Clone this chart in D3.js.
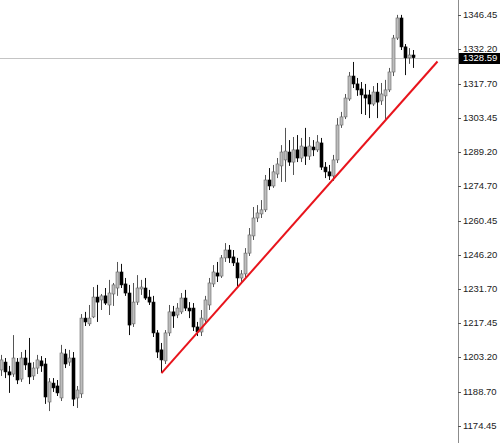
<!DOCTYPE html>
<html>
<head>
<meta charset="utf-8">
<script src="https://cdn.jsdelivr.net/npm/d3@7"></script>
<style>
  body { margin: 0; background: #fff; }
  svg { display: block; }
</style>
</head>
<body>
<script>
// OHLC, one value per candle (oldest first)
var opens = [1197.9,1201.2,1197.1,1196.2,1201.2,1194.1,1202.9,1200.8,1195.4,1198.7,
  1201.7,1200.4,1184.5,1192.4,1191.2,1186.2,1204.6,1201.2,1202.9,1186.2,
  1187.9,1219.6,1217.2,1220.1,1228.4,1227.2,1228.9,1225.1,1229.7,1232.2,
  1238.9,1233.9,1230.1,1217.2,1226.3,1231.8,1232.2,1228.4,1226.3,1213.4,
  1206.3,1201.7,1213.4,1222.2,1220.9,1222.2,1228.0,1223.8,1223.8,1215.9,
  1213.8,1218.8,1225.1,1233.9,1238.5,1237.2,1244.8,1248.1,1245.2,1242.7,
  1236.4,1238.1,1246.8,1254.0,1261.5,1263.2,1264.9,1277.4,1274.9,1279.9,
  1283.3,1285.8,1289.1,1284.9,1290.0,1286.6,1291.2,1287.4,1291.2,1290.0,
  1292.9,1282.8,1280.8,1279.1,1285.8,1300.4,1303.8,1311.3,1320.9,1317.6,
  1315.5,1313.0,1313.0,1309.2,1314.2,1310.5,1312.6,1315.1,1322.6,1336.8,
  1345.2,1333.1,1328.5,1329.7]
var highs = [1204.2,1202.9,1199.6,1212.5,1202.9,1205.4,1206.3,1211.3,1201.2,1204.2,
  1203.7,1202.9,1194.5,1194.5,1193.7,1208.4,1206.7,1206.3,1205.4,1191.2,
  1221.3,1222.2,1225.1,1232.6,1233.5,1229.7,1232.2,1235.6,1234.3,1243.1,
  1242.3,1236.4,1233.5,1234.3,1237.6,1235.6,1236.4,1231.4,1228.9,1214.6,
  1209.2,1214.6,1225.1,1224.7,1225.9,1230.1,1231.4,1226.3,1225.9,1218.0,
  1223.0,1228.9,1236.4,1241.8,1243.1,1246.0,1251.0,1250.2,1248.1,1244.8,
  1239.7,1248.9,1257.3,1266.1,1266.9,1269.0,1279.5,1282.4,1283.7,1286.6,
  1292.0,1299.2,1294.1,1295.4,1296.2,1295.0,1299.2,1295.4,1294.1,1296.2,
  1295.0,1284.9,1283.7,1287.9,1303.3,1305.9,1313.4,1322.6,1326.8,1320.1,
  1318.4,1317.6,1315.1,1316.7,1318.0,1318.0,1319.3,1324.3,1338.1,1346.5,
  1346.5,1334.3,1332.6,1331.8]
var lows = [1195.4,1194.5,1188.3,1195.0,1192.0,1192.9,1197.9,1192.0,1193.7,1196.2,
  1197.1,1183.7,1180.7,1188.7,1187.0,1184.9,1198.7,1199.6,1182.8,1182.0,
  1186.2,1216.3,1216.3,1219.6,1218.0,1223.0,1225.1,1220.9,1224.7,1228.9,
  1232.2,1228.9,1212.5,1215.9,1225.1,1229.3,1227.2,1225.1,1211.7,1202.9,
  1196.6,1200.4,1212.1,1215.5,1219.6,1221.3,1222.6,1219.6,1214.2,1212.1,
  1212.1,1217.2,1223.0,1232.6,1234.7,1236.4,1243.1,1242.7,1241.4,1233.0,
  1234.7,1236.8,1245.6,1252.3,1259.8,1261.5,1264.0,1273.2,1274.1,1278.2,
  1276.6,1276.6,1283.3,1279.5,1284.9,1284.9,1283.7,1285.8,1287.4,1289.1,
  1281.6,1278.2,1277.4,1277.0,1284.5,1299.2,1302.9,1310.5,1315.9,1312.6,
  1305.0,1304.6,1303.3,1308.4,1303.3,1308.8,1302.9,1314.2,1320.9,1336.0,
  1331.8,1321.3,1326.0,1324.3]
var closes = [1202.1,1197.1,1195.8,1202.9,1193.7,1202.9,1200.0,1195.0,1198.7,1202.1,
  1199.6,1186.6,1192.9,1190.4,1188.3,1205.0,1200.4,1202.9,1185.7,1189.5,
  1219.6,1218.0,1219.6,1228.4,1226.3,1228.9,1225.9,1230.1,1233.5,1238.9,
  1233.5,1230.1,1216.7,1226.3,1232.2,1232.6,1228.0,1226.3,1213.4,1205.4,
  1202.1,1213.4,1222.2,1220.5,1223.8,1228.0,1223.8,1222.6,1215.9,1213.8,
  1219.6,1227.2,1234.3,1238.9,1237.2,1244.8,1248.1,1244.8,1242.7,1236.4,
  1238.1,1246.8,1254.4,1261.5,1263.6,1264.9,1277.4,1274.9,1280.8,1284.1,
  1289.1,1289.5,1284.9,1290.0,1286.6,1291.6,1287.4,1291.6,1290.0,1293.3,
  1282.8,1280.8,1279.1,1285.8,1300.4,1303.8,1311.7,1320.9,1317.6,1315.1,
  1313.0,1311.7,1309.2,1314.2,1310.0,1313.4,1315.1,1322.6,1336.8,1345.2,
  1333.1,1328.5,1329.7,1328.59]

// price axis labels
var tickValues = [1346.45,1332.20,1317.70,1303.45,1289.20,1274.70,1260.45,1246.20,1231.70,1217.45,1203.20,1188.70,1174.45]
var lastPrice = 1328.59

// hand drawn trend line (candle index, price)
var trendIdx = [40, 109]
var trendPrice = [1196.6, 1327.0]

var W = 500, H = 443, axisX = 458

var svg = d3.select("body").append("svg")
    .attr("width", W)
    .attr("height", H)

var x = d3.scaleLinear().domain([0, opens.length - 1]).range([1.5, 413.5])
var y = d3.scaleLinear().domain([1174.45, 1346.45]).range([426, 15])

var data = opens.map(function(o, i) {
  return { i: i, o: o, h: highs[i], l: lows[i], c: closes[i] }
})

// current price line
svg.append("line")
  .attr("x1", 0).attr("x2", axisX)
  .attr("y1", Math.round(y(lastPrice)) + 0.5).attr("y2", Math.round(y(lastPrice)) + 0.5)
  .style("stroke", "#c4c4c4")
  .style("stroke-width", 1)

var g = svg.append("g").attr("class", "candles")

// wicks
g.selectAll(".wick")
  .data(data)
  .enter()
  .append("line")
  .attr("class", "wick")
  .attr("x1", d => Math.floor(x(d.i)) + 0.5)
  .attr("x2", d => Math.floor(x(d.i)) + 0.5)
  .attr("y1", d => y(d.h))
  .attr("y2", d => y(d.l))
  .style("stroke", d => d.c >= d.o ? "#555" : "#111")
  .style("stroke-width", 1)

// bodies
g.selectAll(".body")
  .data(data)
  .enter()
  .append("rect")
  .attr("class", "body")
  .attr("x", d => Math.floor(x(d.i)) - 1)
  .attr("width", 3)
  .attr("y", d => y(Math.max(d.o, d.c)))
  .attr("height", d => Math.max(1, Math.abs(y(d.o) - y(d.c))))
  .style("fill", d => d.c >= d.o ? "#bdbdbd" : "#000")
  .style("stroke", d => d.c >= d.o ? "#666" : "#000")
  .style("stroke-width", 0.6)

// trend line
svg.append("line")
  .attr("x1", x(trendIdx[0])).attr("y1", y(trendPrice[0]))
  .attr("x2", x(trendIdx[1])).attr("y2", y(trendPrice[1]))
  .style("stroke", "#e8141c")
  .style("stroke-width", 2)

// price axis
var axis = svg.append("g").attr("class", "axis")
axis.append("rect")
  .attr("x", axisX).attr("y", 0)
  .attr("width", W - axisX).attr("height", H)
  .style("fill", "#fff")
axis.append("line")
  .attr("x1", axisX + 0.5).attr("x2", axisX + 0.5)
  .attr("y1", 0).attr("y2", H)
  .style("stroke", "#8c8c8c")

axis.selectAll(".tick")
  .data(tickValues)
  .enter()
  .append("line")
  .attr("class", "tick")
  .attr("x1", axisX).attr("x2", axisX + 3)
  .attr("y1", d => Math.round(y(d)) + 0.5)
  .attr("y2", d => Math.round(y(d)) + 0.5)
  .style("stroke", "#555")

axis.selectAll(".lbl")
  .data(tickValues)
  .enter()
  .append("text")
  .attr("class", "lbl")
  .attr("x", axisX + 5)
  .attr("y", d => y(d) + 3)
  .text(d => d.toFixed(2))
  .attr("font-family", "Liberation Sans, Arial, sans-serif")
  .attr("font-size", "9.5px")
  .attr("fill", "#222")

// last price tag
axis.append("rect")
  .attr("x", axisX + 1).attr("y", Math.round(y(lastPrice)) - 5)
  .attr("width", W - axisX - 1).attr("height", 11)
  .style("fill", "#000")
axis.append("text")
  .attr("x", axisX + 5)
  .attr("y", y(lastPrice) + 3.5)
  .text(lastPrice.toFixed(2))
  .attr("font-family", "Liberation Sans, Arial, sans-serif")
  .attr("font-size", "9.5px")
  .attr("fill", "#fff")
</script>
</body>
</html>
